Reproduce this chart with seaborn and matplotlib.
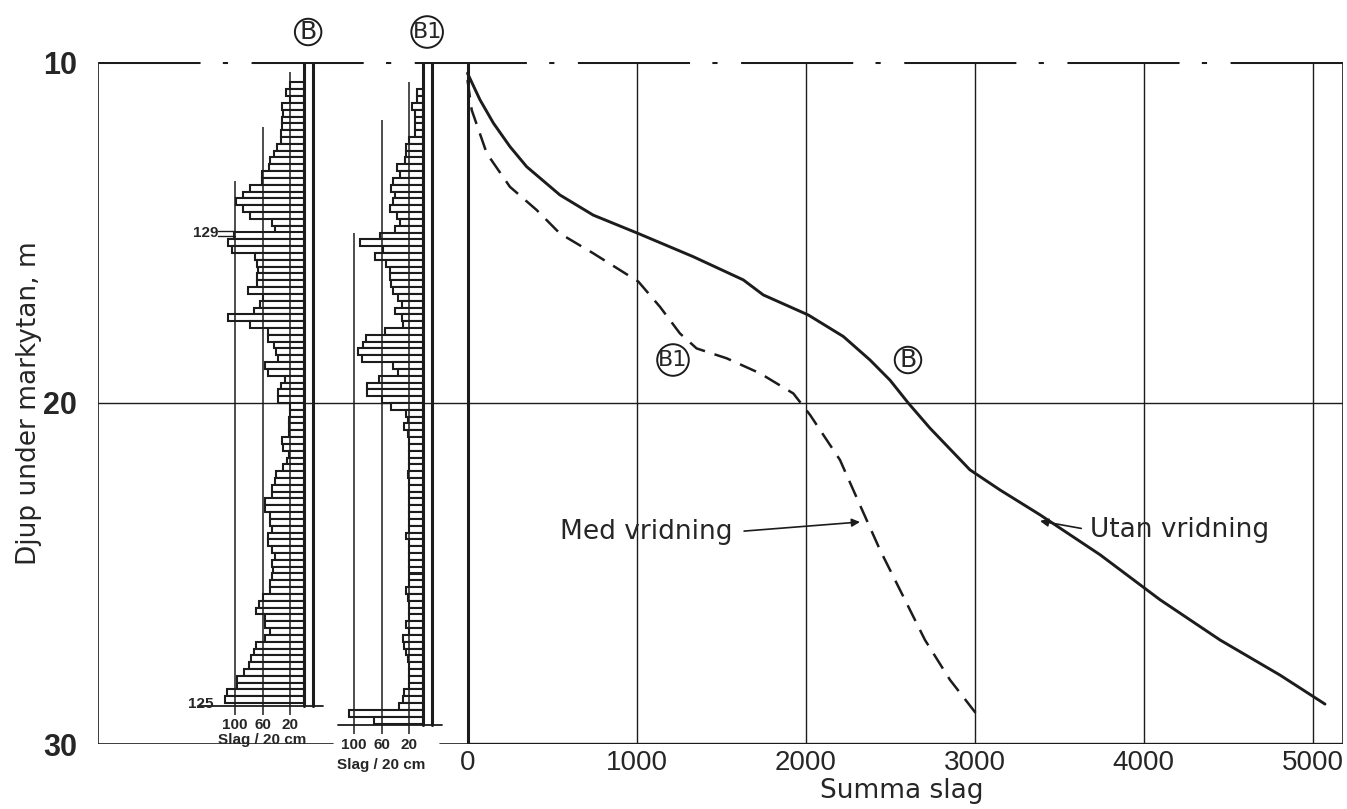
import numpy as np
import pandas as pd
import matplotlib.pyplot as plt
import seaborn as sns

# --- data ---
# main curves: summa slag (x) against depth (m)
b_slag = [0, 74, 153, 251, 350, 547, 744, 1011, 1336, 1632, 1750, 2017, 2224,
          2382, 2500, 2608, 2737, 2973, 3151, 3388, 3743, 4098, 4453, 4808, 5074]
b_djup = [10.33, 11.11, 11.79, 12.48, 13.07, 13.9, 14.49, 15.03, 15.71, 16.39,
          16.83, 17.42, 18.05, 18.74, 19.33, 20.0, 20.74, 21.96, 22.55, 23.28,
          24.45, 25.77, 26.95, 27.98, 28.83]
b1_slag = [0, 25, 114, 251, 409, 547, 744, 1011, 1139, 1257, 1356, 1534, 1731,
           1928, 2027, 2204, 2322, 2441, 2559, 2707, 2855, 3021]
b1_djup = [10.53, 11.41, 12.68, 13.66, 14.34, 15.03, 15.61, 16.44, 17.18, 17.96,
           18.4, 18.69, 19.13, 19.72, 20.35, 21.67, 22.99, 24.31, 25.48, 26.95,
           28.12, 29.18]

# slag per 20 cm, from the top of each sounding downwards
b_per20 = [20, 26, 20, 32, 30, 32, 32, 33, 33, 39, 44, 49, 51, 61, 61, 78, 88, 99,
           88, 78, 47, 42, 102, 110, 105, 71, 68, 66, 68, 68, 81, 59, 64, 73, 110,
           78, 52, 52, 44, 41, 38, 56, 52, 28, 34, 37, 38,
           20, 20, 22, 22, 22, 32, 30, 22, 25, 30, 40, 42, 47, 47, 57, 57, 50, 50,
           47, 52, 52, 47, 42, 47, 45, 47, 50, 50, 60, 65, 70, 57, 57, 50, 57, 70,
           72, 77, 80, 87, 97, 97, 112, 115]
b1_per20 = [9, 9, 16, 12, 12, 12, 12, 21, 24, 24, 26, 38, 33, 43, 46, 41, 43, 48,
            38, 33, 41, 63, 92, 58, 70, 53, 48, 48, 46, 43, 36, 31, 41, 31, 29, 55,
            82, 87, 94, 89, 43, 36, 64, 81, 81, 59,
            47, 25, 22, 27, 22, 20, 20, 20, 20, 20, 22, 20, 20, 20, 20, 20, 20,
            20, 20, 25, 20, 20, 20, 21, 20, 20, 20, 25, 22, 20, 20, 20, 25, 20,
            29, 27, 25, 22, 20, 20, 20, 20, 27, 29, 35, 107, 71]
b_top, b1_top = 10.6, 10.8

x_ticks = [0, 1000, 2000, 3000, 4000, 5000]
y_ticks = [10, 20, 30]
ref_slag = [100, 60, 20]
b_ref_start = [13.5, 11.9, 10.3]
b1_ref_start = [15.0, 11.7, 10.6]

# --- layout (pixels of the 1347x809 original) ---
W, H = 1347, 809
TOP, BOT = 62, 744
X0, PX1000 = 467.5, 169
LEFT, RIGHT = 98, 1343
PX_SLAG = 0.69
INK = '#1c1c1c'

sns.set_theme(style='white')
plt.rcParams['font.family'] = ['DejaVu Sans']
narrow = ['Liberation Sans Narrow', 'Liberation Sans', 'DejaVu Sans']


def px2x(px):
    return (px - X0) / PX1000 * 1000


def py2d(py):
    return 10 + (py - TOP) / (BOT - TOP) * 20


fig = plt.figure(figsize=(W / 100, H / 100), dpi=100)
ax = fig.add_axes([LEFT / W, (H - BOT) / H, (RIGHT - LEFT) / W, (BOT - TOP) / H])
ax.set_xlim(px2x(LEFT), px2x(RIGHT))
ax.set_ylim(30, 10)
ax.patch.set_alpha(0)
for s in ax.spines.values():
    s.set_visible(False)

# frame and grid
ax.plot([px2x(LEFT)] * 2, [10, 30], color=INK, lw=1.2)
ax.plot([px2x(RIGHT)] * 2, [10, 30], color=INK, lw=1.2)
ax.plot([0, 0], [10, 30], color=INK, lw=2.2)
for xv in x_ticks[1:]:
    ax.plot([xv, xv], [10, 30], color=INK, lw=1.0)
ax.plot([px2x(LEFT), px2x(RIGHT)], [20, 20], color=INK, lw=1.0)
ax.plot([px2x(LEFT), px2x(RIGHT)], [10, 10], color=INK, lw=2.2,
        linestyle=(3.3, (36.7, 7.3, 1.7, 7.7)), dash_capstyle='butt')
ax.plot([px2x(LEFT), px2x(333)], [30, 30], color=INK, lw=1.2)
ax.plot([px2x(440), 0], [30, 30], color=INK, lw=1.2)
ax.plot([0, px2x(RIGHT)], [30, 30], color=INK, lw=2.4)

# curves
sns.lineplot(x=b_slag, y=b_djup, sort=False, ax=ax, color=INK, lw=2.1)
sns.lineplot(x=b1_slag, y=b1_djup, sort=False, ax=ax, color=INK, lw=1.8,
             linestyle=(0, (7, 4)))

ax.set_xticks(x_ticks)
ax.set_xticklabels([str(v) for v in x_ticks], family=narrow, fontsize=20)
ax.set_yticks(y_ticks)
ax.set_yticklabels([str(v) for v in y_ticks], family=narrow, fontsize=22,
                   fontweight='bold')
ax.tick_params(length=0, pad=4)
ax.tick_params(axis='y', pad=15)
ax.set_xlabel('Summa slag', fontsize=19)
ax.xaxis.set_label_coords((px2x(902) - px2x(LEFT)) / (px2x(RIGHT) - px2x(LEFT)), -0.05)
ax.set_ylabel('Djup under markytan, m', fontsize=19)
ax.yaxis.set_label_coords(-0.045, 0.5)

circ = dict(boxstyle='circle,pad=0.05', fc='white', ec=INK, lw=1.4)
ax.text(px2x(673), py2d(360), 'B1', ha='center', va='center', fontsize=16, bbox=circ)
ax.text(px2x(908), py2d(360), 'B', ha='center', va='center', fontsize=18, bbox=circ)

ax.annotate('Med vridning', xy=(px2x(860), py2d(522)), xytext=(px2x(560), py2d(532)),
            va='center', ha='left', fontsize=19,
            arrowprops=dict(arrowstyle='-|>', color=INK, lw=1.2, relpos=(1, 0.5),
                            shrinkA=6, shrinkB=0, mutation_scale=12))
ax.annotate('Utan vridning', xy=(px2x(1040), py2d(521)), xytext=(px2x(1090), py2d(530)),
            va='center', ha='left', fontsize=19,
            arrowprops=dict(arrowstyle='-|>', color=INK, lw=1.2, relpos=(0, 0.5),
                            shrinkA=4, shrinkB=0, mutation_scale=12))


def profile(values, top, base_px, left_px, right_px, ref_start, bottom, name,
            lab_y, slag_y):
    pax = fig.add_axes([left_px / W, (H - BOT) / H, (right_px - left_px) / W,
                        (BOT - TOP) / H])
    n = len(values)
    df = pd.DataFrame({'djup': top + 0.2 * (np.arange(n) + 0.5),
                       'slag': values})
    sns.histplot(data=df, y='djup', weights='slag', binwidth=0.2,
                 binrange=(top, top + 0.2 * n), ax=pax, color='white',
                 edgecolor=INK, linewidth=1.5, alpha=1)
    pax.set_xlim((base_px - left_px) / PX_SLAG, (base_px - right_px) / PX_SLAG)
    pax.set_ylim(30, 10)
    pax.axis('off')
    pax.vlines(ref_slag, ref_start, bottom + 0.25, color=INK, lw=1.1)
    pax.plot([0, 0], [10, bottom], color=INK, lw=2.2)
    outer = -9 / PX_SLAG
    pax.plot([outer, outer], [10, bottom], color=INK, lw=2.2)
    pax.plot([(base_px - left_px - 8) / PX_SLAG, outer - 14], [bottom, bottom],
             color=INK, lw=1.3, clip_on=False)
    for v in ref_slag:
        pax.text(v, lab_y, str(v), ha='center', va='center', fontsize=11,
                 fontweight='bold', family=narrow, clip_on=False)
    pax.text(60, slag_y, 'Slag / 20 cm', ha='center', va='center', fontsize=11,
             fontweight='bold', family=narrow, clip_on=False)
    pax.text(-6, py2d(32), name, ha='center', va='center',
             fontsize=18 if name == 'B' else 16, bbox=circ, clip_on=False)
    return pax


pb = profile(b_per20, b_top, 304, 190, 330, b_ref_start, py2d(706), 'B',
             py2d(725), py2d(740))
pb.text(124, py2d(233), '129', ha='right', va='center', fontsize=11,
        fontweight='bold', family=narrow)
pb.plot([124, 100], [py2d(231)] * 2, color=INK, lw=1.0)
pb.plot([124, 100], [py2d(236)] * 2, color=INK, lw=1.0)
pb.text(131, py2d(704), '125', ha='right', va='center', fontsize=11,
        fontweight='bold', family=narrow, clip_on=False)
profile(b1_per20, b1_top, 423, 330, 452, b1_ref_start, py2d(725), 'B1',
        py2d(745), py2d(765))

fig.savefig('out.png', dpi=100, facecolor='white')
